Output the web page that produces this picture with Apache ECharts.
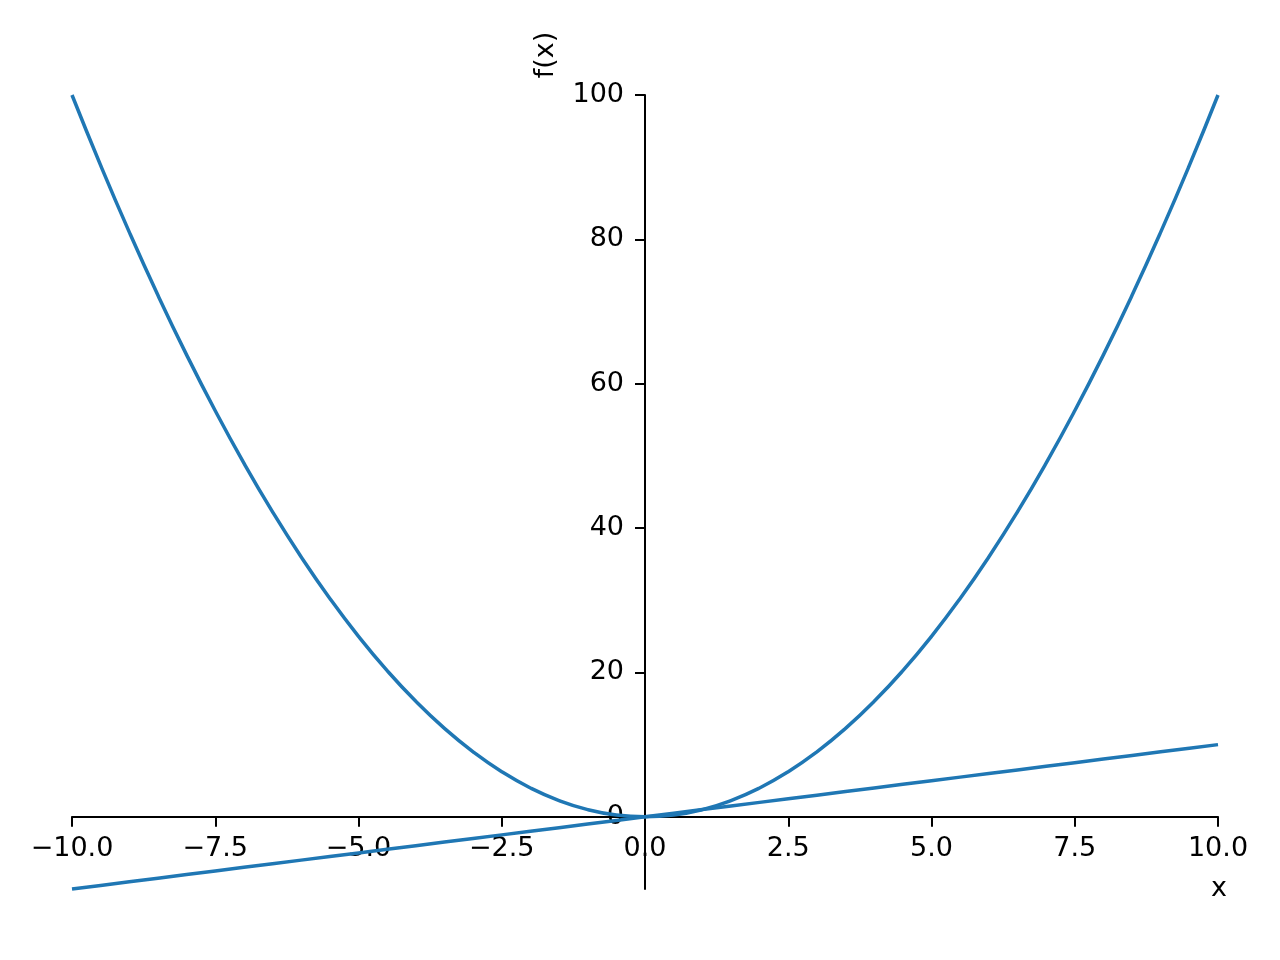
<!DOCTYPE html>
<html>
<head>
<meta charset="utf-8">
<script src="https://cdn.jsdelivr.net/npm/echarts@6/dist/echarts.min.js"></script>
<style>
html,body{margin:0;padding:0;background:#fff;}
#c{width:1280px;height:960px;}
</style>
</head>
<body>
<div id="c"></div>
<script>
var xValues = [-10, -9.5, -9, -8.5, -8, -7.5, -7, -6.5, -6, -5.5, -5, -4.5, -4, -3.5, -3, -2.5, -2, -1.5, -1, -0.5, 0, 0.5, 1, 1.5, 2, 2.5, 3, 3.5, 4, 4.5, 5, 5.5, 6, 6.5, 7, 7.5, 8, 8.5, 9, 9.5, 10];
var squareValues = [100, 90.25, 81, 72.25, 64, 56.25, 49, 42.25, 36, 30.25, 25, 20.25, 16, 12.25, 9, 6.25, 4, 2.25, 1, 0.25, 0, 0.25, 1, 2.25, 4, 6.25, 9, 12.25, 16, 20.25, 25, 30.25, 36, 42.25, 49, 56.25, 64, 72.25, 81, 90.25, 100];
var lineValues = [-10, -9.5, -9, -8.5, -8, -7.5, -7, -6.5, -6, -5.5, -5, -4.5, -4, -3.5, -3, -2.5, -2, -1.5, -1, -0.5, 0, 0.5, 1, 1.5, 2, 2.5, 3, 3.5, 4, 4.5, 5, 5.5, 6, 6.5, 7, 7.5, 8, 8.5, 9, 9.5, 10];
var yTicks = [0, 20, 40, 60, 80, 100];
var xAxisName = 'x';
var yAxisName = 'f(x)';

function pairs(xs, ys) { return xs.map(function (x, i) { return [x, ys[i]]; }); }
function fmtX(v) {
  var s = Math.abs(v).toFixed(1);
  return v < 0 ? '\u2212' + s : s;
}

var FONT = 'DejaVu Sans';
var FS = 27;
var GL = 72, GR = 62, GT = 95, GB = 71;
var chart = echarts.init(document.getElementById('c'), null, {renderer: 'canvas'});
var gw = 1280 - GL - GR, gh = 960 - GT - GB;
// spines cross at data zero: offsets computed from the axis ranges
var xMin = -10, xMax = 10, yMin = -10, yMax = 100;
var xOff = -gh * (0 - yMin) / (yMax - yMin);
var yOff = -gw * (0 - xMin) / (xMax - xMin);
chart.setOption({
  animation: false,
  backgroundColor: '#ffffff',
  grid: {left: GL, right: GR, top: GT, bottom: GB, containLabel: false},
  xAxis: {
    type: 'value', min: xMin, max: xMax, interval: 2.5, position: 'bottom', offset: xOff,
    axisLine: {onZero: false, lineStyle: {color: '#000', width: 2}},
    axisTick: {show: true, inside: false, length: 10, lineStyle: {color: '#000', width: 2}},
    axisLabel: {margin: 19, color: '#000', fontFamily: FONT, fontSize: FS, formatter: fmtX, showMinLabel: true, showMaxLabel: true},
    splitLine: {show: false}
  },
  yAxis: {
    type: 'value', min: yMin, max: yMax, position: 'left', offset: yOff,
    axisLine: {onZero: false, lineStyle: {color: '#000', width: 2}},
    axisTick: {show: true, inside: false, length: 10, customValues: yTicks, lineStyle: {color: '#000', width: 2}},
    axisLabel: {margin: 21, color: '#000', fontFamily: FONT, fontSize: FS, customValues: yTicks, formatter: function (v) { return String(v); }},
    splitLine: {show: false}
  },
  graphic: [
    {type: 'text', x: 1219, y: 889, style: {text: xAxisName, font: FS + 'px "' + FONT + '"', fill: '#000', align: 'center', verticalAlign: 'middle'}},
    {type: 'text', x: 546, y: 55, rotation: Math.PI / 2, style: {text: yAxisName, font: FS + 'px "' + FONT + '"', fill: '#000', align: 'center', verticalAlign: 'middle'}}
  ],
  series: [
    {type: 'line', data: pairs(xValues, squareValues), smooth: true, showSymbol: false, lineStyle: {color: '#1f77b4', width: 3.5}, itemStyle: {color: '#1f77b4'}, clip: false},
    {type: 'line', data: pairs(xValues, lineValues), showSymbol: false, lineStyle: {color: '#1f77b4', width: 3.5}, itemStyle: {color: '#1f77b4'}, clip: false}
  ]
});
</script>
</body>
</html>
